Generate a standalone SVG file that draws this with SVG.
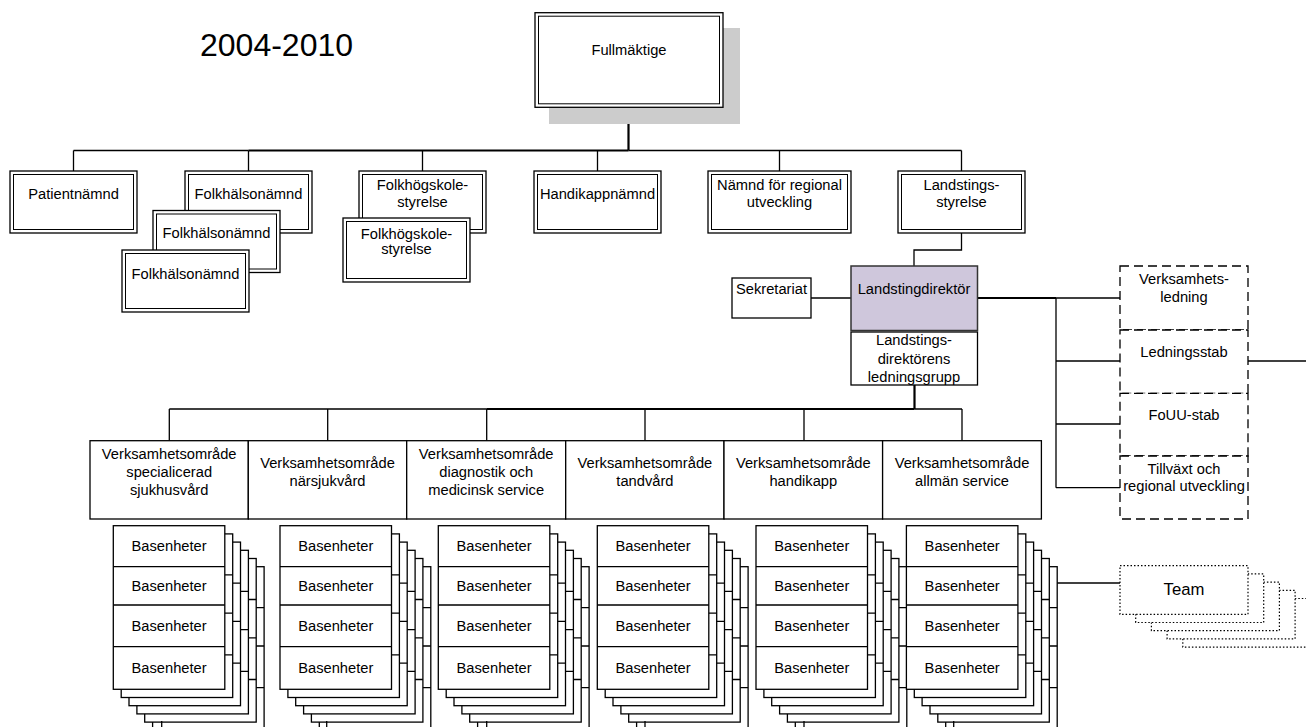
<svg xmlns="http://www.w3.org/2000/svg" xmlns:xlink="http://www.w3.org/1999/xlink" width="1306" height="727" viewBox="0 0 1306 727">
<style>
.ln{stroke:#000;stroke-width:1.3;fill:none}
.thk{stroke:#000;stroke-width:2.2;fill:none}
.box{fill:#fff;stroke:#000;stroke-width:1.3}
.inner{fill:none;stroke:#000;stroke-width:1}
.dash{fill:#fff;stroke:#000;stroke-width:1.3;stroke-dasharray:9 5}
.dot{fill:#fff;stroke:#000;stroke-width:1.2;stroke-dasharray:1.5 2}
.t{font-family:"Liberation Sans",Arial,sans-serif;font-size:14.7px;text-anchor:middle;fill:#000}
.title{font-family:"Liberation Sans",Arial,sans-serif;font-size:32px;fill:#000}
</style>
<defs>
<g id="layer">
<rect class="box" x="0" y="0" width="111.5" height="163.6"/>
<path class="ln" d="M0,41H111.5M0,79.3H111.5M0,121H111.5"/>
</g>
<rect id="team" class="dot" x="0" y="0" width="128" height="48.6"/>
</defs>
<rect width="1306" height="727" fill="#fff"/>
<text class="title" x="200" y="56">2004-2010</text>

<g id="connectors">
<path class="thk" d="M628.5,107.3V150.5M248.5,150.5H628.5"/>
<path class="ln" d="M73.5,150.5H248.5M628.5,150.5H961.5"/>
<path class="ln" d="M73.5,150.5V171M248.5,150.5V171M422.5,150.5V171M597.5,150.5V171M779.5,150.5V171M961.5,150.5V171"/>
<path class="ln" d="M961.5,233V250H914V266"/>
<path class="ln" d="M811,298H851"/>
<path class="thk" d="M977.5,298H1056"/>
<path class="ln" d="M1056,298H1120M1056,298V487.7M1056,361H1120M1056,424H1120M1056,487.7H1120"/>
<path class="ln" d="M1248,361H1306"/>
<path class="thk" d="M914.5,385V409M487,409H914.5"/>
<path class="ln" d="M169.3,409H487M914.5,409H962"/>
<path class="ln" d="M169.3,409V440.7M327.7,409V440.7M486.7,409V440.7M645,409V440.7M804,409V440.7M962,409V440.7"/>
<path class="ln" d="M1057,583H1120"/>
</g>

<g id="fullmaktige">
<rect x="549" y="28" width="191" height="96" fill="#cccccc"/>
<rect class="box" x="535" y="12.7" width="188" height="94.6"/>
<rect class="inner" x="538.5" y="16.2" width="181" height="87.6"/>
<text class="t" x="629" y="55.3">Fullmäktige</text>
</g>

<g id="patientnamnd">
<rect class="box" x="10" y="171" width="127" height="62"/>
<rect class="inner" x="13.5" y="174.5" width="120" height="55"/>
<text class="t" x="73.5" y="198.6">Patientnämnd</text>
</g>

<g id="folkhalsonamnd">
<rect class="box" x="185" y="171" width="127" height="62"/>
<rect class="inner" x="188.5" y="174.5" width="120" height="55"/>
<text class="t" x="248.5" y="198.6">Folkhälsonämnd</text>
<rect class="box" x="153" y="210.5" width="127" height="62"/>
<rect class="inner" x="156.5" y="214" width="120" height="55"/>
<text class="t" x="216.5" y="238.2">Folkhälsonämnd</text>
<rect class="box" x="122" y="250" width="127" height="62"/>
<rect class="inner" x="125.5" y="253.5" width="120" height="55"/>
<text class="t" x="185.5" y="278.5">Folkhälsonämnd</text>
</g>

<g id="folkhogskolestyrelse">
<rect class="box" x="359" y="171" width="127" height="62"/>
<rect class="inner" x="362.5" y="174.5" width="120" height="55"/>
<text class="t" x="422.5" y="190.3">Folkhögskole-</text>
<text class="t" x="422.5" y="207">styrelse</text>
<rect class="box" x="343" y="218" width="127" height="64"/>
<rect class="inner" x="346.5" y="221.5" width="120" height="57"/>
<text class="t" x="406.5" y="238.6">Folkhögskole-</text>
<text class="t" x="406.5" y="254">styrelse</text>
</g>

<g id="handikappnamnd">
<rect class="box" x="534" y="171" width="127" height="62"/>
<rect class="inner" x="537.5" y="174.5" width="120" height="55"/>
<text class="t" x="597.5" y="198.6">Handikappnämnd</text>
</g>

<g id="namnd-regional">
<rect class="box" x="708" y="171" width="143" height="62"/>
<rect class="inner" x="711.5" y="174.5" width="136" height="55"/>
<text class="t" x="779.5" y="190.3">Nämnd för regional</text>
<text class="t" x="779.5" y="207">utveckling</text>
</g>

<g id="landstingsstyrelse">
<rect class="box" x="898" y="171" width="127" height="62"/>
<rect class="inner" x="901.5" y="174.5" width="120" height="55"/>
<text class="t" x="961.5" y="190.3">Landstings-</text>
<text class="t" x="961.5" y="207">styrelse</text>
</g>

<g id="sekretariat">
<rect class="box" x="732" y="278" width="79" height="40"/>
<text class="t" x="771.5" y="293.6">Sekretariat</text>
</g>

<g id="landstingdirektor">
<rect x="851" y="266" width="126.5" height="64.5" fill="#cfc7dc" stroke="#333" stroke-width="1.5"/>
<text class="t" x="914" y="293.6">Landstingdirektör</text>
</g>

<g id="ledningsgrupp">
<rect class="box" x="851" y="332" width="126.5" height="53" stroke="#333"/>
<text class="t" x="914" y="345.3">Landstings-</text>
<text class="t" x="914" y="363.6">direktörens</text>
<text class="t" x="914" y="382">ledningsgrupp</text>
</g>

<g id="verksamhetsledning">
<rect class="dash" x="1120" y="266" width="128" height="64"/>
<text class="t" x="1184" y="283.6">Verksamhets-</text>
<text class="t" x="1184" y="302">ledning</text>
</g>
<g id="ledningsstab">
<rect class="dash" x="1120" y="330" width="128" height="63.3"/>
<text class="t" x="1184" y="357">Ledningsstab</text>
</g>
<g id="fouu-stab">
<rect class="dash" x="1120" y="393.3" width="128" height="62.7"/>
<text class="t" x="1184" y="420.3">FoUU-stab</text>
</g>
<g id="tillvaxt">
<rect class="dash" x="1120" y="456" width="128" height="63"/>
<text class="t" x="1184" y="473.6">Tillväxt och</text>
<text class="t" x="1184" y="491.3">regional utveckling</text>
</g>

<g id="vo-specialicerad">
<rect class="box" x="90" y="440.7" width="158.3" height="78.3"/>
<text class="t" x="169.2" y="458.6">Verksamhetsområde</text>
<text class="t" x="169.2" y="477">specialicerad</text>
<text class="t" x="169.2" y="495.3">sjukhusvård</text>
</g>
<g id="vo-narsjukvard">
<rect class="box" x="248.3" y="440.7" width="158.4" height="78.3"/>
<text class="t" x="327.5" y="468">Verksamhetsområde</text>
<text class="t" x="327.5" y="486.3">närsjukvård</text>
</g>
<g id="vo-diagnostik">
<rect class="box" x="406.7" y="440.7" width="159" height="78.3"/>
<text class="t" x="486.2" y="458.6">Verksamhetsområde</text>
<text class="t" x="486.2" y="477">diagnostik och</text>
<text class="t" x="486.2" y="495.3">medicinsk service</text>
</g>
<g id="vo-tandvard">
<rect class="box" x="565.7" y="440.7" width="158.3" height="78.3"/>
<text class="t" x="644.9" y="468">Verksamhetsområde</text>
<text class="t" x="644.9" y="486.3">tandvård</text>
</g>
<g id="vo-handikapp">
<rect class="box" x="724" y="440.7" width="158.6" height="78.3"/>
<text class="t" x="803.3" y="468">Verksamhetsområde</text>
<text class="t" x="803.3" y="486.3">handikapp</text>
</g>
<g id="vo-allman">
<rect class="box" x="882.6" y="440.7" width="158.8" height="78.3"/>
<text class="t" x="962" y="468">Verksamhetsområde</text>
<text class="t" x="962" y="486.3">allmän service</text>
</g>

<g id="basenheter-1" transform="translate(113.3,525.7)">
<use xlink:href="#layer" x="39.3" y="41"/>
<use xlink:href="#layer" x="31.4" y="32.8"/>
<use xlink:href="#layer" x="23.6" y="24.6"/>
<use xlink:href="#layer" x="15.7" y="16.4"/>
<use xlink:href="#layer" x="7.9" y="8.2"/>
<use xlink:href="#layer" x="0" y="0"/>
<text class="t" x="55.75" y="25.8">Basenheter</text>
<text class="t" x="55.75" y="65.5">Basenheter</text>
<text class="t" x="55.75" y="105.5">Basenheter</text>
<text class="t" x="55.75" y="147.6">Basenheter</text>
<path class="ln" d="M48.4,195.3V202"/>
</g>
<g id="basenheter-2" transform="translate(280,525.7)">
<use xlink:href="#layer" x="39.3" y="41"/>
<use xlink:href="#layer" x="31.4" y="32.8"/>
<use xlink:href="#layer" x="23.6" y="24.6"/>
<use xlink:href="#layer" x="15.7" y="16.4"/>
<use xlink:href="#layer" x="7.9" y="8.2"/>
<use xlink:href="#layer" x="0" y="0"/>
<text class="t" x="55.75" y="25.8">Basenheter</text>
<text class="t" x="55.75" y="65.5">Basenheter</text>
<text class="t" x="55.75" y="105.5">Basenheter</text>
<text class="t" x="55.75" y="147.6">Basenheter</text>
<path class="ln" d="M46.7,195.3V202"/>
</g>
<g id="basenheter-3" transform="translate(438.3,525.7)">
<use xlink:href="#layer" x="39.3" y="41"/>
<use xlink:href="#layer" x="31.4" y="32.8"/>
<use xlink:href="#layer" x="23.6" y="24.6"/>
<use xlink:href="#layer" x="15.7" y="16.4"/>
<use xlink:href="#layer" x="7.9" y="8.2"/>
<use xlink:href="#layer" x="0" y="0"/>
<text class="t" x="55.75" y="25.8">Basenheter</text>
<text class="t" x="55.75" y="65.5">Basenheter</text>
<text class="t" x="55.75" y="105.5">Basenheter</text>
<text class="t" x="55.75" y="147.6">Basenheter</text>
<path class="ln" d="M48.4,195.3V202"/>
</g>
<g id="basenheter-4" transform="translate(597.3,525.7)">
<use xlink:href="#layer" x="39.3" y="41"/>
<use xlink:href="#layer" x="31.4" y="32.8"/>
<use xlink:href="#layer" x="23.6" y="24.6"/>
<use xlink:href="#layer" x="15.7" y="16.4"/>
<use xlink:href="#layer" x="7.9" y="8.2"/>
<use xlink:href="#layer" x="0" y="0"/>
<text class="t" x="55.75" y="25.8">Basenheter</text>
<text class="t" x="55.75" y="65.5">Basenheter</text>
<text class="t" x="55.75" y="105.5">Basenheter</text>
<text class="t" x="55.75" y="147.6">Basenheter</text>
<path class="ln" d="M47.7,195.3V202"/>
</g>
<g id="basenheter-5" transform="translate(756,525.7)">
<use xlink:href="#layer" x="39.3" y="41"/>
<use xlink:href="#layer" x="31.4" y="32.8"/>
<use xlink:href="#layer" x="23.6" y="24.6"/>
<use xlink:href="#layer" x="15.7" y="16.4"/>
<use xlink:href="#layer" x="7.9" y="8.2"/>
<use xlink:href="#layer" x="0" y="0"/>
<text class="t" x="55.75" y="25.8">Basenheter</text>
<text class="t" x="55.75" y="65.5">Basenheter</text>
<text class="t" x="55.75" y="105.5">Basenheter</text>
<text class="t" x="55.75" y="147.6">Basenheter</text>
<path class="ln" d="M48,195.3V202"/>
</g>
<g id="basenheter-6" transform="translate(906.4,525.7)">
<use xlink:href="#layer" x="39.3" y="41"/>
<use xlink:href="#layer" x="31.4" y="32.8"/>
<use xlink:href="#layer" x="23.6" y="24.6"/>
<use xlink:href="#layer" x="15.7" y="16.4"/>
<use xlink:href="#layer" x="7.9" y="8.2"/>
<use xlink:href="#layer" x="0" y="0"/>
<text class="t" x="55.75" y="25.8">Basenheter</text>
<text class="t" x="55.75" y="65.5">Basenheter</text>
<text class="t" x="55.75" y="105.5">Basenheter</text>
<text class="t" x="55.75" y="147.6">Basenheter</text>
<path class="ln" d="M47.3,195.3V202"/>
</g>

<g id="team-group" transform="translate(1120,565.7)">
<use xlink:href="#team" x="62.8" y="32.8"/>
<use xlink:href="#team" x="47.1" y="24.6"/>
<use xlink:href="#team" x="31.4" y="16.4"/>
<use xlink:href="#team" x="15.7" y="8.2"/>
<use xlink:href="#team" x="0" y="0"/>
<text class="t" x="64" y="29.8" style="font-size:16.7px">Team</text>
</g>
</svg>
